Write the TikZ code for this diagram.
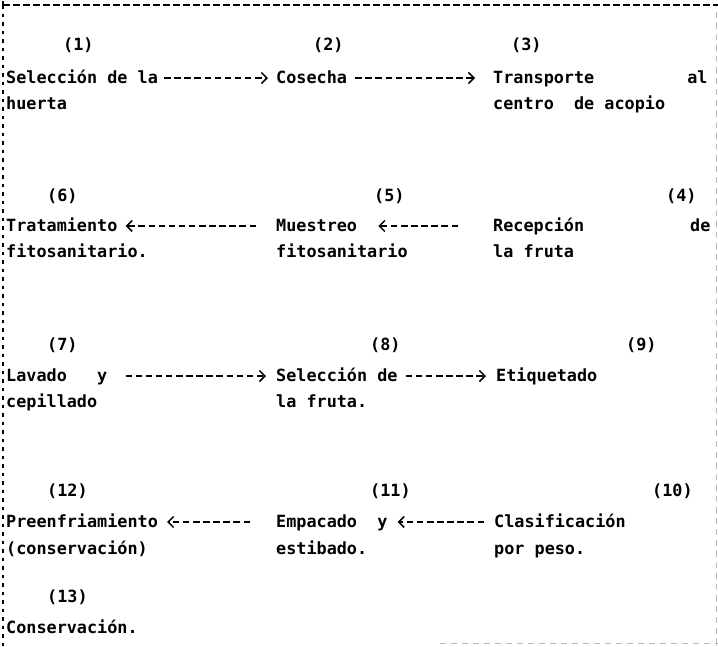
\documentclass[tikz,border=0pt]{standalone}
\usepackage{fontspec}
\newfontfamily\typfam{DejaVu Sans Mono}
\usetikzlibrary{arrows.meta}
\newcommand{\typ}{\typfam\bfseries\fontsize{16.8pt}{20pt}\selectfont}
\begin{document}
\begin{tikzpicture}[x=1pt,y=-1pt,
  txt/.style={anchor=base west, inner sep=0pt, font=\typ},
  stepbox/.style={txt, text height=10pt, text depth=0pt},
  conn/.style={draw, line width=1.5pt, dash pattern=on 6.5pt off 3.6pt,
    -{Straight Barb[length=5.5pt,width=11pt,line width=1.5pt]}},
  framebk/.style={line width=1.3pt, dash pattern=on 7pt off 3pt},
  frameside/.style={line width=1.6pt, dash pattern=on 3.5pt off 5pt},
  framefaint/.style={gray!55, line width=1pt, dash pattern=on 6pt off 5pt}
]
\useasboundingbox (0,0) rectangle (718,646);
% frame
\draw[framebk] (3,5) -- (718,5);
\draw[frameside] (3,5) -- (3,646);
\draw[line width=1.3pt] (3,1) -- (3,9);
\draw[framefaint] (716,12) -- (716,646);
\draw[framefaint] (440,643) -- (718,643);

% row 1
\node[txt] (l1) at (63,50) {(1)};
\node[txt] (l2) at (313,50) {(2)};
\node[txt] (l3) at (511,50) {(3)};
\node[stepbox] (s1) at (6,83) {Selección de la};
\node[txt] (s1b) at (6,109) {huerta};
\node[stepbox] (s2) at (276,83) {Cosecha};
\node[stepbox] (s3) at (493,83) {Transporte\hspace{93pt}al};
\node[txt] (s3b) at (493,109) {centro\ \ de acopio};
\draw[conn, shorten <=6pt, shorten >=8pt] (s1.east) -- (s2.west);
\draw[conn, shorten <=8pt, shorten >=18pt] (s2.east) -- (s3.west);

% row 2
\node[txt] (l6) at (47,201) {(6)};
\node[txt] (l5) at (374,201) {(5)};
\node[txt] (l4) at (666,201) {(4)};
\node[stepbox] (s6) at (6,231) {Tratamiento};
\node[txt] (s6b) at (6,257) {fitosanitario.};
\node[stepbox] (s5) at (276,231) {Muestreo};
\node[txt] (s5b) at (276,257) {fitosanitario};
\node[stepbox] (s4) at (493,231) {Recepción\hspace{106pt}de};
\node[txt] (s4b) at (493,257) {la fruta};
\draw[conn, shorten <=35pt, shorten >=21pt] (s4.west) -- (s5.east);
\draw[conn, shorten <=20pt, shorten >=8pt] (s5.west) -- (s6.east);

% row 3
\node[txt] (l7) at (47,350) {(7)};
\node[txt] (l8) at (370,350) {(8)};
\node[txt] (l9) at (626,350) {(9)};
\node[stepbox] (s7) at (6,381) {Lavado\ \ \ y};
\node[txt] (s7b) at (6,407) {cepillado};
\node[stepbox] (s8) at (276,381) {Selección de};
\node[txt] (s8b) at (276,407) {la fruta.};
\node[stepbox] (s9) at (496,381) {Etiquetado};
\draw[conn, shorten <=18pt, shorten >=10pt] (s7.east) -- (s8.west);
\draw[conn, shorten <=8pt, shorten >=10pt] (s8.east) -- (s9.west);

% row 4
\node[txt] (l12) at (47,496) {(12)};
\node[txt] (l11) at (370,496) {(11)};
\node[txt] (l10) at (652,496) {(10)};
\node[stepbox] (s12) at (6,527) {Preenfriamiento};
\node[txt] (s12b) at (6,554) {(conservación)};
\node[stepbox] (s11) at (276,527) {Empacado\ \ y};
\node[txt] (s11b) at (276,554) {estibado.};
\node[stepbox] (s10) at (494,527) {Clasificación};
\node[txt] (s10b) at (494,554) {por peso.};
\draw[conn, shorten <=10pt, shorten >=10pt] (s10.west) -- (s11.east);
\draw[conn, shorten <=26pt, shorten >=9pt] (s11.west) -- (s12.east);

% row 5
\node[txt] (l13) at (47,602) {(13)};
\node[txt] (s13) at (6,633) {Conservación.};
\end{tikzpicture}
\end{document}
